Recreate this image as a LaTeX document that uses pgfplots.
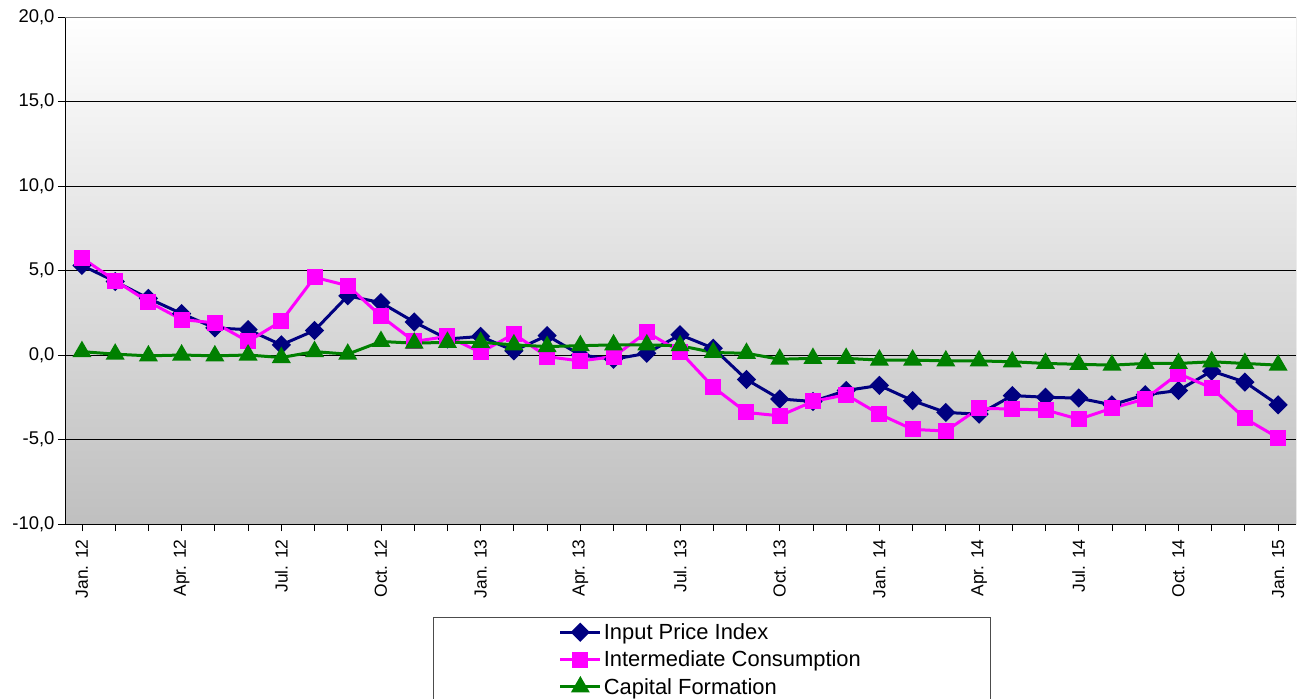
\documentclass[border=0pt]{standalone}
\usepackage{fontspec}
\setmainfont{Liberation Sans}
\usepackage{pgfplots}
\usepackage{pgfplotstable}
\pgfplotsset{compat=1.18}
\definecolor{ipi}{HTML}{000080}
\definecolor{ic}{HTML}{FF00FF}
\definecolor{cf}{HTML}{008000}

\pgfplotstableread{
x ipi ic cf
0 5.3 5.75 0.2
1 4.35 4.4 0.05
2 3.35 3.15 -0.05
3 2.45 2.1 0.0
4 1.6 1.9 -0.05
5 1.5 0.8 0.0
6 0.6 2.0 -0.15
7 1.45 4.6 0.2
8 3.5 4.1 0.05
9 3.1 2.3 0.8
10 1.95 0.8 0.7
11 0.95 1.1 0.75
12 1.1 0.15 0.75
13 0.25 1.25 0.6
14 1.15 -0.1 0.5
15 0.0 -0.35 0.55
16 -0.25 -0.1 0.6
17 0.1 1.35 0.6
18 1.2 0.2 0.55
19 0.4 -1.9 0.15
20 -1.45 -3.4 0.1
21 -2.6 -3.6 -0.25
22 -2.75 -2.75 -0.2
23 -2.1 -2.35 -0.2
24 -1.8 -3.5 -0.3
25 -2.7 -4.4 -0.3
26 -3.4 -4.5 -0.35
27 -3.5 -3.15 -0.35
28 -2.4 -3.2 -0.4
29 -2.5 -3.25 -0.5
30 -2.55 -3.8 -0.55
31 -2.95 -3.15 -0.6
32 -2.35 -2.6 -0.5
33 -2.1 -1.1 -0.5
34 -0.95 -1.95 -0.4
35 -1.6 -3.75 -0.5
36 -2.95 -4.9 -0.6
}\data

\begin{document}
\begin{tikzpicture}
\begin{axis}[
  at={(65bp,-17bp)}, anchor=north west,
  scale only axis, width=1231bp, height=507bp,
  xmin=-0.51, xmax=36.54,
  ymin=-10, ymax=20,
  ytick={-10,-5,...,20},
  xtick={0,3,...,36},
  xticklabels={Jan. 12, Apr. 12, Jul. 12, Oct. 12, Jan. 13, Apr. 13, Jul. 13, Oct. 13, Jan. 14, Apr. 14, Jul. 14, Oct. 14, Jan. 15},
  minor xtick={0,...,36},
  axis x line*=bottom, axis y line*=left,
  axis line style={black, line width=1bp},
  tick align=outside,
  major tick length=7bp, minor tick length=7bp,
  tick style={black, line width=0.8bp},
  ymajorgrids, grid style={black, line width=0.8bp},
  axis background/.style={shade, top color=white, bottom color=black!25},
  xticklabel shift=5bp,
  xticklabel style={rotate=90, anchor=east, font=\fontsize{17.5}{20}\selectfont},
  yticklabel style={font=\fontsize{18.5}{22}\selectfont},
  /pgf/number format/.cd, fixed, fixed zerofill, precision=1, use comma, assume math mode=true,
  /pgfplots/.cd,
  legend image code/.code={\draw[mark repeat=2,mark phase=2] plot coordinates {(0bp,0bp)(20bp,0bp)(40bp,0bp)};},
  legend cell align=left,
  legend style={draw=none, fill=none, at={(axis description cs:0.401,-0.192)}, anchor=north west,
    font=\fontsize{22}{26}\selectfont, row sep=6bp, inner sep=0pt,
    nodes={inner sep=2bp}},
]
\addplot[ipi, line width=3bp, mark=square*, mark size=5.3bp, mark options={rotate=45, solid}] table[x=x, y=ipi] {\data};
\addlegendentry{Input Price Index}
\addplot[ic, line width=3bp, mark=square*, mark size=6.5bp, mark options={solid}] table[x=x, y=ic] {\data};
\addlegendentry{Intermediate Consumption}
\addplot[cf, line width=3bp, mark=triangle*, mark size=8bp, mark options={solid}] table[x=x, y=cf] {\data};
\addlegendentry{Capital Formation}
\draw[gray, line width=1bp] (rel axis cs:0,1) -- (rel axis cs:1,1) -- (rel axis cs:1,0);
\end{axis}
\draw[black!70, line width=1bp] (433bp,-617bp) rectangle (990bp,-730bp);
\pgfresetboundingbox
\useasboundingbox (0,0) rectangle (1302bp,-699bp);
\end{tikzpicture}
\end{document}
